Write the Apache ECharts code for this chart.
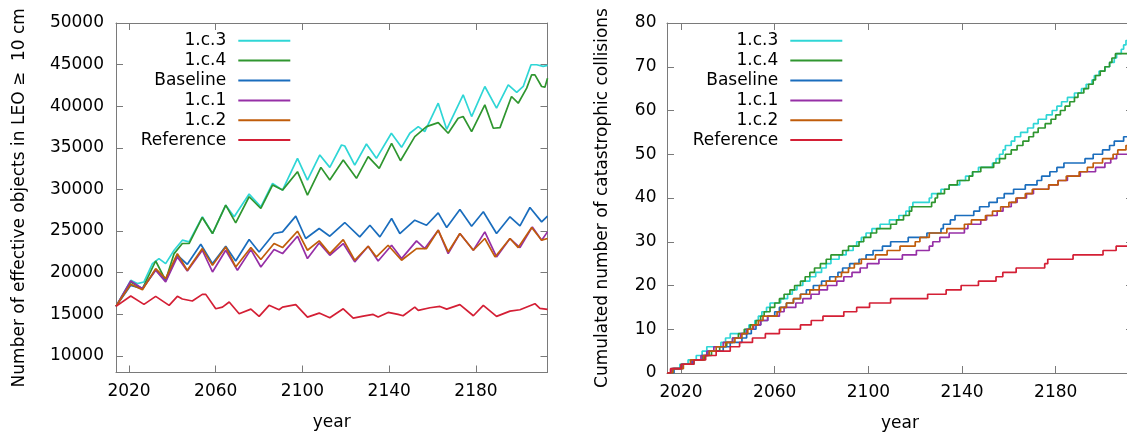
<!DOCTYPE html>
<html><head><meta charset="utf-8">
<script src="https://cdn.jsdelivr.net/npm/echarts@6/dist/echarts.min.js"></script>
<style>html,body{margin:0;padding:0;background:#fff}#c{width:1127px;height:436px}</style>
</head><body><div id="c"></div>
<script>
// ---------- data ----------
const seriesNames = ['1.c.3', '1.c.4', 'Baseline', '1.c.1', '1.c.2', 'Reference'];
const seriesColors = ['#2fd6d6', '#2f962f', '#1a6dbd', '#962fa6', '#c05c0a', '#d41f35'];
const yearTicks = [2020, 2060, 2100, 2140, 2180];
const objectTicks = [10000, 15000, 20000, 25000, 30000, 35000, 40000, 45000, 50000];
const collisionTicks = [0, 10, 20, 30, 40, 50, 60, 70, 80];

// Left panel: number of effective objects in LEO >= 10 cm  [year, count]
const objC3 = [[2014,15950],[2020.8,19080],[2023.8,18680],[2026.9,18880],[2030.8,21085],[2033.8,21690],[2036.9,21085],[2040.8,22690],[2044.6,23900],[2047.7,23700],[2053.8,26710],[2058.5,24700],[2064.6,28110],[2068.5,26710],[2075.4,29440],[2080.8,27910],[2086.2,30720],[2090.8,29920],[2097.7,33735],[2102.3,31125],[2108,34140],[2112.6,32650],[2118,35340],[2119.5,35220],[2124.1,32930],[2129.5,35460],[2134.1,33735],[2141,36750],[2145.7,35060],[2149.5,36750],[2153.4,37550],[2156.4,36950],[2162.6,40360],[2166.5,37230],[2174.1,41370],[2178,38760],[2184.1,42370],[2189.5,39760],[2194.9,42570],[2198.8,41650],[2201.8,42370],[2205.4,44980],[2208,44980],[2211,44780],[2213,44900]];
const objC4 = [[2014,15950],[2020.8,18880],[2026.2,18070],[2032.3,21400],[2036.9,19080],[2040.8,22290],[2044.6,23500],[2047.7,23500],[2053.8,26630],[2058.5,24700],[2064.6,28110],[2069.2,25990],[2075.4,29120],[2080.8,27710],[2086.2,30520],[2090.8,29920],[2097.7,32130],[2102.3,29320],[2108.5,32650],[2112.6,31125],[2118.8,33530],[2124.9,31330],[2130.3,33940],[2135.4,32530],[2141.1,35540],[2145.2,33450],[2151.8,36350],[2157.2,37550],[2162.6,38030],[2167.2,36750],[2171.8,38550],[2174.1,38760],[2178,36950],[2184.1,40160],[2188,37350],[2191.1,37430],[2196.4,41165],[2199.5,40360],[2203.4,42170],[2205.7,43775],[2207.2,43775],[2210.3,42370],[2211.8,42290],[2213,43370]];
const objBase = [[2014,15950],[2020.8,18475],[2026.2,18070],[2032.3,20360],[2036.9,19000],[2042.3,22090],[2046.9,21000],[2053.1,23415],[2058.5,21085],[2064.6,23170],[2069.2,21400],[2075.4,23975],[2080,22490],[2086.9,24700],[2090.8,24900],[2096.9,26790],[2101.5,24100],[2107.7,25300],[2112.6,24380],[2119.5,26025],[2126.4,24300],[2131.1,25700],[2135.7,24300],[2141.1,26510],[2144.9,24700],[2151.8,26305],[2157.2,25700],[2162.6,27190],[2166.5,25420],[2172.6,27590],[2178,25580],[2183.4,27310],[2189.5,24700],[2195.7,26710],[2200.3,25620],[2204.9,27830],[2210.3,26100],[2213,26790]];
const objC1 = [[2014,15950],[2020.8,19000],[2026.2,18070],[2032.3,20280],[2036.9,18880],[2042.3,21890],[2046.9,20200],[2053.8,22690],[2058.5,20080],[2064.6,22690],[2070,20280],[2076.2,22770],[2080.8,20680],[2086.9,22770],[2090.8,22290],[2097.7,24380],[2102.3,21690],[2107.7,23570],[2112.6,22090],[2118.8,23500],[2124.1,21290],[2130.3,23170],[2134.9,21400],[2141.1,23290],[2145.7,21690],[2152.6,23815],[2156.4,22890],[2162.6,25100],[2167.2,22290],[2172.6,24700],[2178.8,22690],[2184.1,24900],[2189.5,21890],[2195.7,24100],[2200.3,23010],[2206,25500],[2210.3,23900],[2213,24900]];
const objC2 = [[2014,15950],[2020.8,18600],[2026.2,17950],[2032.3,20480],[2036.9,19280],[2042.3,22290],[2046.9,20280],[2053.8,22890],[2058.5,20880],[2064.6,23090],[2069.2,20680],[2076.2,23010],[2080.8,21570],[2086.9,23500],[2090.8,23010],[2097.7,24980],[2102.3,22690],[2107.7,23815],[2112.6,22290],[2118.8,23975],[2124.1,21490],[2130.3,23170],[2134.1,21890],[2139.5,23290],[2145.7,21490],[2152.6,22890],[2157.2,22890],[2162.6,25100],[2167.2,22490],[2172.6,24700],[2178.8,22690],[2184.1,24100],[2188.8,21890],[2195.7,24100],[2199.5,23010],[2205.7,25420],[2210.3,23900],[2213,24100]];
const objRef = [[2014,15950],[2020.8,17190],[2026.9,16190],[2032.3,17150],[2038.5,16070],[2042.3,17150],[2044.6,16830],[2049.2,16590],[2053.8,17390],[2055.4,17390],[2060,15660],[2063.1,15860],[2066.2,16470],[2070.8,15060],[2076.2,15620],[2080,14740],[2084.6,16070],[2089.2,15540],[2090.8,15860],[2096.9,16150],[2102.3,14660],[2107.7,15140],[2112.6,14580],[2118.8,15660],[2123.4,14540],[2128,14780],[2132.6,14980],[2134.9,14660],[2139.5,15220],[2144.1,14980],[2146.4,14820],[2151.8,15860],[2153.4,15460],[2158.8,15780],[2163.4,15940],[2166.5,15620],[2172.6,16150],[2178.8,14820],[2183.4,16070],[2189.5,14740],[2195.7,15380],[2200.3,15540],[2207.2,16270],[2209.5,15700],[2213,15580]];

// Right panel: cumulated number of catastrophic collisions  [year the count is reached, count]
const colC3 = [[2014,0],[2016,1],[2019.5,2],[2023,3],[2026.5,4],[2029,5],[2031,6],[2037,7],[2039,8],[2041,9],[2047.5,10],[2049,11],[2051.5,12],[2053,13],[2054.5,14],[2056.5,15],[2058,16],[2062.5,17],[2065.5,18],[2067.5,19],[2069.5,20],[2072,21],[2075,22],[2077.5,23],[2080,24],[2082,25],[2084,26],[2087.5,27],[2090.5,28],[2093.5,29],[2095,30],[2097,31],[2099,32],[2101.5,33],[2105,34],[2109,35],[2113,36],[2116,37],[2117.5,38],[2119,39],[2126,40],[2127,41],[2131,42],[2134.5,43],[2139,44],[2141.5,45],[2144.5,46],[2147,47],[2153,48],[2154.5,49],[2156,50],[2157.5,51],[2158.5,52],[2161,53],[2162.5,54],[2165,55],[2168,56],[2170.5,57],[2172.5,58],[2176,59],[2178.5,60],[2180.5,61],[2182.5,62],[2185,63],[2188,64],[2191,65],[2193,66],[2195.5,67],[2196.5,68],[2198.5,69],[2201,70],[2203,71],[2205,72],[2206,73],[2208,74],[2209,75],[2210,76],[2211,77],[2213,77]];
const colC4 = [[2014,0],[2016.5,1],[2020,2],[2025.5,3],[2030,4],[2033,5],[2036.5,6],[2039.5,7],[2042,8],[2044.5,9],[2047,10],[2049.5,11],[2052,12],[2054,13],[2055.5,14],[2058,15],[2060,16],[2062,17],[2064,18],[2066.5,19],[2068.5,20],[2071,21],[2073,22],[2075,23],[2077,24],[2079.5,25],[2082,26],[2084,27],[2089,28],[2091.5,29],[2096,30],[2098,31],[2101,32],[2103.5,33],[2109.5,34],[2112,35],[2115,36],[2117.5,37],[2118.5,38],[2127,39],[2128.5,40],[2129.5,41],[2132.5,42],[2134.5,43],[2138,44],[2143,45],[2144.5,46],[2148,47],[2153.5,48],[2156,49],[2158.5,50],[2161,51],[2163.5,52],[2166,53],[2168.5,54],[2170.5,55],[2172.5,56],[2175.5,57],[2178,58],[2180,59],[2182,60],[2184,61],[2186,62],[2188,63],[2189.5,64],[2192,65],[2194,66],[2196,67],[2197,68],[2199,69],[2201,70],[2203,71],[2204,72],[2205.5,73],[2213,73]];
const colBase = [[2014,0],[2017,1],[2020.5,2],[2025,3],[2029,4],[2031.5,5],[2038,6],[2041,7],[2046,8],[2048,9],[2050,10],[2052,11],[2054,12],[2057,13],[2060,14],[2062,15],[2065,16],[2068,17],[2071,18],[2073.5,19],[2076.5,20],[2080,21],[2083.5,22],[2087,23],[2089,24],[2092,25],[2096,26],[2099,27],[2102,28],[2106,29],[2109.5,30],[2117,31],[2125,32],[2131,33],[2132,34],[2135,35],[2137,36],[2145,37],[2147.5,38],[2151.5,39],[2155,40],[2158,41],[2162,42],[2167,43],[2172,44],[2174,45],[2177.5,46],[2180.5,47],[2183.5,48],[2192.5,49],[2196,50],[2200,51],[2203,52],[2205,53],[2209,54],[2213,54]];
const colC1 = [[2014,0],[2016,1],[2020.5,2],[2024.5,3],[2028.5,4],[2031,5],[2034,6],[2038,7],[2042,8],[2045.5,9],[2048,10],[2051,11],[2054,12],[2057,13],[2062,14],[2064,15],[2069,16],[2072,17],[2075.5,18],[2079,19],[2082.5,20],[2086.5,21],[2089.5,22],[2093,23],[2096.5,24],[2099.5,25],[2104.5,26],[2114.5,27],[2120.5,28],[2126,29],[2127.5,30],[2130.5,31],[2134.5,32],[2141,33],[2142.5,34],[2148,35],[2150.5,36],[2155,37],[2157.5,38],[2161,39],[2163.5,40],[2167.5,41],[2170.5,42],[2177,43],[2181,44],[2185,45],[2190.5,46],[2197,47],[2201,48],[2203.5,49],[2206,50],[2213,50]];
const colC2 = [[2014,0],[2016.5,1],[2021,2],[2024,3],[2029.5,4],[2032,5],[2035,6],[2039,7],[2043,8],[2046,9],[2048.5,10],[2050.5,11],[2053,12],[2055,13],[2061,14],[2062.5,15],[2065,16],[2068,17],[2071,18],[2075,19],[2079,20],[2082,21],[2086,22],[2088.5,23],[2091.5,24],[2094,25],[2097,26],[2103,27],[2108,28],[2113.5,29],[2120,30],[2122,31],[2126,32],[2133.5,33],[2141,34],[2144,35],[2150,36],[2153,37],[2156.5,38],[2160,39],[2163,40],[2167,41],[2170,42],[2177,43],[2181,44],[2184.5,45],[2190,46],[2193.5,47],[2196,48],[2200,49],[2204.5,50],[2206.5,51],[2210,52],[2213,52]];
const colRef = [[2014,0],[2015.5,1],[2020,2],[2025.5,3],[2030.5,4],[2035,5],[2041,6],[2045,7],[2050.5,8],[2056,9],[2062,10],[2071,11],[2075.6,12],[2080.6,13],[2089.5,14],[2095,15],[2100.5,16],[2109.5,17],[2125.3,18],[2133.2,19],[2139.6,20],[2147,21],[2154.5,22],[2157.4,23],[2163.1,24],[2175.3,25],[2176.6,26],[2187.4,27],[2200.2,28],[2205.8,29],[2213,29]];

// ---------- chart ----------
const objData = [objC3, objC4, objBase, objC1, objC2, objRef];
const colData = [colC3, colC4, colBase, colC1, colC2, colRef];

const FONT = 'DejaVu Sans';
const FRAME = '#7a7a7a';
const txt = {fontFamily: FONT, fontSize: 17, color: '#000'};
const plain = v => String(v);

function xAx(grid, pos, showLabel) {
  return {
    type: 'value', gridIndex: grid, position: pos, min: 2014, max: 2213,
    name: showLabel ? 'year' : '', nameLocation: 'middle', nameGap: 42,
    nameTextStyle: txt,
    axisLine: {show: true, onZero: false, lineStyle: {color: FRAME, width: 1}},
    axisTick: {show: true, inside: true, length: 7, customValues: yearTicks, lineStyle: {color: FRAME}},
    axisLabel: {show: showLabel, customValues: yearTicks, margin: 11, formatter: plain, ...txt},
    splitLine: {show: false}
  };
}
function yAx(grid, pos, showLabel, min, max, ticks, name, gap, margin) {
  return {
    type: 'value', gridIndex: grid, position: pos, min: min, max: max,
    name: name, nameLocation: 'middle', nameRotate: 90, nameGap: gap,
    nameTextStyle: txt,
    axisLine: {show: true, onZero: false, lineStyle: {color: FRAME, width: 1}},
    axisTick: {show: true, inside: true, length: 7, customValues: ticks, lineStyle: {color: FRAME}},
    axisLabel: {show: showLabel, customValues: ticks, margin: margin, formatter: plain, ...txt},
    splitLine: {show: false}
  };
}

const series = [];
seriesNames.forEach((n, i) => {
  series.push({name: n, type: 'line', xAxisIndex: 0, yAxisIndex: 0, data: objData[i],
    symbol: 'none', showSymbol: false, lineStyle: {width: 1.7, color: seriesColors[i]}, itemStyle: {color: seriesColors[i]},
    animation: false, z: 2});
});
seriesNames.forEach((n, i) => {
  series.push({name: n, type: 'line', xAxisIndex: 2, yAxisIndex: 2, data: colData[i], step: 'end',
    symbol: 'none', showSymbol: false, lineStyle: {width: 1.7, color: seriesColors[i]}, itemStyle: {color: seriesColors[i]},
    animation: false, z: 2});
});

const legendRows = [40.7, 60.6, 80.6, 100.5, 120.3, 140.1];
const legendIconRight = [290.3, 842.3];
const legends = [];
legendIconRight.forEach(r => {
  seriesNames.forEach((n, j) => {
    legends.push({
      data: [{name: n, icon: 'rect', itemStyle: {color: seriesColors[j]}}],
      orient: 'vertical', align: 'right', right: 1127 - r, top: legendRows[j] - 8.5,
      padding: 0, itemWidth: 52, itemHeight: 2, selectedMode: false,
      textStyle: {...txt, lineHeight: 17, padding: [0, 7, 0, 0]}
    });
  });
});

const chart = echarts.init(document.getElementById('c'), null, {renderer: 'canvas'});
chart.setOption({
  animation: false,
  backgroundColor: '#fff',
  textStyle: {fontFamily: FONT},
  grid: [
    {left: 116, top: 23, width: 431.5, height: 349.5, outerBoundsMode: 'none', containLabel: false},
    {left: 667, top: 23, width: 466, height: 350, outerBoundsMode: 'none', containLabel: false}
  ],
  xAxis: [xAx(0, 'bottom', true), xAx(0, 'top', false), xAx(1, 'bottom', true), xAx(1, 'top', false)],
  yAxis: [
    yAx(0, 'left', true, 8000, 50000, objectTicks, 'Number of effective objects in LEO \u2265  10 cm', 88, 12),
    yAx(0, 'right', false, 8000, 50000, objectTicks, '', 0, 8),
    yAx(1, 'left', true, 0, 80, collisionTicks, 'Cumulated number of catastrophic collisions', 56, 10.5),
    yAx(1, 'right', false, 0, 80, collisionTicks, '', 0, 8)
  ],
  legend: legends,
  series: series
});
</script>
</body></html>
